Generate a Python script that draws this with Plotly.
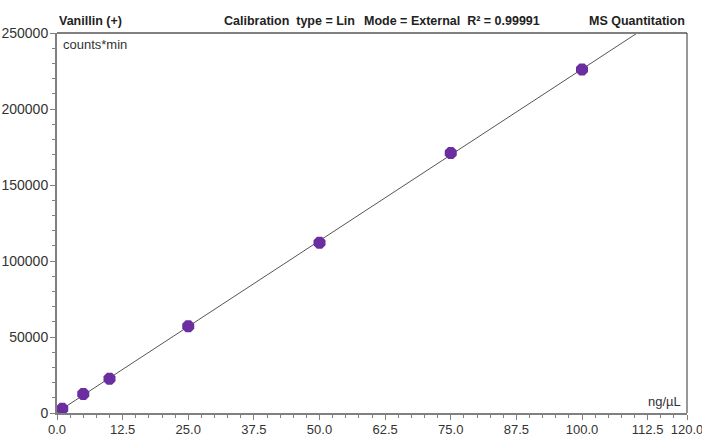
import numpy as np
import plotly.graph_objects as go

# Data
conc = [1.0, 5.0, 10.0, 25.0, 50.0, 75.0, 100.0]          # ng/µL
area = [2800, 12500, 22500, 57000, 112000, 171000, 226000]  # counts*min

x_ticks = [0, 12.5, 25, 37.5, 50, 62.5, 75, 87.5, 100, 112.5, 120]
x_tick_text = ["0.0", "12.5", "25.0", "37.5", "50.0", "62.5", "75.0", "87.5", "100.0", "112.5", "120.0"]
y_ticks = [0, 50000, 100000, 150000, 200000, 250000]
y_tick_text = ["0", "50000", "100000", "150000", "200000", "250000"]

compound = "Vanillin (+)"
cal_text = "Calibration  type = Lin"
mode_text = "Mode = External  R² = 0.99991"
quant_text = "MS Quantitation"

FONT = "Liberation Sans, Arial, sans-serif"
YTICK_SIZE = 14
XTICK_SIZE = 13
HEAD_SIZE = 12.5

# linear calibration fit
slope, intercept = np.polyfit(conc, area, 1)
fit_x = np.array([0.0, 120.0])
fit_y = slope * fit_x + intercept

fig = go.Figure()
fig.add_trace(go.Scatter(x=fit_x, y=fit_y, mode="lines",
                         line=dict(color="#555555", width=1), hoverinfo="skip"))
fig.add_trace(go.Scatter(x=conc, y=area, mode="markers",
                         marker=dict(symbol="octagon", size=13, color="#6a2ea0",
                                     line=dict(width=0))))

fig.update_layout(
    width=702, height=436,
    margin=dict(l=57, r=15, t=33, b=23),
    paper_bgcolor="white", plot_bgcolor="white",
    showlegend=False,
    font=dict(family=FONT, size=YTICK_SIZE, color="#333333"),
    xaxis=dict(range=[0, 120], tickvals=x_ticks, ticktext=x_tick_text, automargin=False,
               ticklabeloverflow="allow", ticklabelstandoff=-2,
               showgrid=False, zeroline=False, showline=True, linecolor="#808080", linewidth=2,
               ticks="outside", ticklen=5, tickcolor="#808080", tickwidth=1,
               minor=dict(dtick=2.5, ticks="outside", ticklen=3, tickcolor="#808080"),
               tickfont=dict(family=FONT, size=XTICK_SIZE, color="#333333")),
    yaxis=dict(range=[0, 250000], tickvals=y_ticks, ticktext=y_tick_text, automargin=False,
               ticklabeloverflow="allow", ticklabelstandoff=-1,
               showgrid=False, zeroline=False, showline=True, linecolor="#808080", linewidth=2,
               ticks="outside", ticklen=5, tickcolor="#808080", tickwidth=1,
               minor=dict(dtick=10000, ticks="outside", ticklen=3, tickcolor="#808080"),
               tickfont=dict(family=FONT, size=YTICK_SIZE, color="#333333")),
    shapes=[
        dict(type="line", xref="paper", yref="paper", x0=0, x1=1, y0=1, y1=1,
             line=dict(color="#808080", width=2)),
        dict(type="line", xref="paper", yref="paper", x0=1, x1=1, y0=0, y1=1,
             line=dict(color="#333333", width=1)),
    ],
    annotations=[
        dict(text=compound, xref="paper", yref="paper", x=0, y=1, yshift=3,
             xanchor="left", yanchor="bottom", showarrow=False,
             font=dict(family=FONT, size=HEAD_SIZE, color="#222222", weight="bold")),
        dict(text=cal_text, xref="paper", yref="paper", x=(222 - 57) / 630, y=1, yshift=3,
             xanchor="left", yanchor="bottom", showarrow=False,
             font=dict(family=FONT, size=HEAD_SIZE, color="#222222", weight="bold")),
        dict(text=mode_text, xref="paper", yref="paper", x=(362 - 57) / 630, y=1, yshift=3,
             xanchor="left", yanchor="bottom", showarrow=False,
             font=dict(family=FONT, size=HEAD_SIZE, color="#222222", weight="bold")),
        dict(text=quant_text, xref="paper", yref="paper", x=1, y=1, yshift=3,
             xanchor="right", yanchor="bottom", showarrow=False,
             font=dict(family=FONT, size=HEAD_SIZE, color="#222222", weight="bold")),
        dict(text="counts*min", xref="paper", yref="paper", x=0, y=1, xshift=4, yshift=-2,
             xanchor="left", yanchor="top", showarrow=False,
             font=dict(family=FONT, size=13, color="#333333")),
        dict(text="ng/µL", xref="paper", yref="paper", x=1, y=0, xshift=-4, yshift=2,
             xanchor="right", yanchor="bottom", showarrow=False,
             font=dict(family=FONT, size=13, color="#333333")),
    ],
)

fig.write_html("out.html")
